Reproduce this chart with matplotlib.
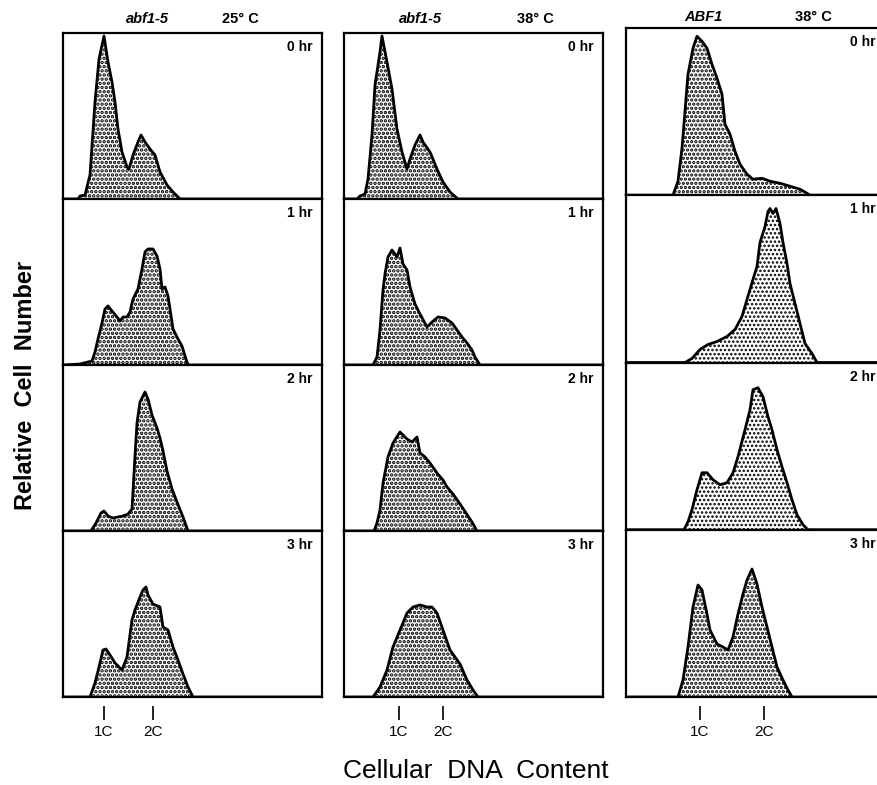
import matplotlib
matplotlib.use("Agg")
import matplotlib.pyplot as plt

plt.rcParams['font.family'] = ['Liberation Sans', 'DejaVu Sans']

# ---- data: channel (DNA content) vs relative cell count ----
# column 1: abf1-5, 25 C
c1_0h_x = [0, 15, 17, 22, 27, 32, 36, 41, 45, 49, 52, 55, 59, 64, 66, 70, 75, 78, 82, 87, 92, 97, 104, 110, 117, 259]
c1_0h_y = [0, 0, 3, 4, 24, 97, 140, 163, 137, 117, 97, 70, 47, 32, 30, 44, 57, 64, 57, 50, 44, 27, 14, 7, 0, 0]
c1_1h_x = [0, 17, 29, 32, 35, 39, 42, 45, 49, 54, 57, 60, 64, 67, 70, 75, 79, 82, 85, 90, 94, 97, 99, 102, 105, 107, 110, 115, 119, 122, 125, 259]
c1_1h_y = [0, 1, 4, 13, 26, 42, 56, 59, 54, 48, 44, 48, 48, 53, 66, 76, 96, 113, 116, 116, 109, 96, 76, 78, 69, 56, 36, 26, 19, 9, 0, 0]
c1_2h_x = [0, 28, 33, 38, 41, 45, 50, 55, 60, 65, 69, 72, 74, 77, 82, 85, 89, 94, 97, 100, 104, 109, 114, 120, 125, 259]
c1_2h_y = [0, 0, 8, 18, 20, 15, 13, 14, 15, 17, 22, 75, 108, 129, 139, 132, 116, 103, 93, 80, 60, 42, 29, 14, 0, 0]
c1_3h_x = [0, 27, 32, 37, 40, 43, 47, 52, 59, 64, 69, 72, 77, 80, 83, 85, 90, 97, 100, 105, 110, 115, 120, 125, 130, 259]
c1_3h_y = [0, 0, 14, 34, 47, 48, 42, 34, 27, 40, 77, 87, 100, 107, 110, 102, 93, 90, 70, 67, 50, 37, 23, 10, 0, 0]

# column 2: abf1-5, 38 C
c2_0h_x = [0, 13, 16, 21, 24, 28, 31, 36, 38, 43, 48, 53, 58, 63, 66, 71, 76, 79, 86, 93, 99, 106, 114, 259]
c2_0h_y = [0, 0, 3, 5, 20, 64, 114, 147, 163, 137, 110, 70, 47, 30, 40, 54, 64, 57, 47, 30, 17, 7, 0, 0]
c2_1h_x = [0, 29, 33, 36, 39, 41, 44, 48, 53, 56, 59, 63, 66, 71, 76, 83, 88, 94, 101, 108, 113, 118, 123, 128, 131, 136, 259]
c2_1h_y = [0, 0, 8, 35, 75, 91, 108, 115, 108, 117, 101, 95, 78, 61, 51, 38, 43, 48, 47, 42, 35, 28, 22, 15, 8, 0, 0]
c2_2h_x = [0, 30, 33, 36, 39, 44, 49, 56, 63, 68, 73, 76, 81, 86, 93, 99, 103, 109, 116, 122, 128, 133, 259]
c2_2h_y = [0, 0, 8, 21, 48, 74, 88, 99, 92, 89, 94, 78, 74, 68, 58, 51, 44, 37, 27, 18, 9, 0, 0]
c2_3h_x = [0, 29, 36, 43, 49, 56, 63, 69, 76, 83, 88, 93, 99, 106, 116, 123, 129, 134, 259]
c2_3h_y = [0, 0, 10, 27, 50, 67, 84, 90, 92, 90, 90, 84, 67, 47, 33, 17, 7, 0, 0]

# column 3: ABF1, 38 C
c3_0h_x = [0, 47, 52, 56, 59, 62, 67, 71, 76, 81, 86, 91, 96, 99, 104, 109, 114, 121, 127, 136, 144, 154, 164, 174, 181, 184, 259]
c3_0h_y = [0, 0, 14, 47, 84, 121, 147, 159, 154, 147, 131, 117, 101, 71, 61, 44, 31, 21, 16, 17, 14, 12, 9, 6, 2, 0, 0]
c3_1h_x = [0, 59, 66, 74, 82, 91, 101, 109, 116, 121, 127, 131, 134, 139, 142, 144, 147, 150, 154, 157, 161, 164, 169, 174, 179, 186, 191, 259]
c3_1h_y = [0, 0, 4, 13, 18, 21, 26, 33, 46, 63, 83, 96, 120, 136, 151, 154, 149, 154, 139, 120, 99, 79, 59, 39, 19, 9, 0, 0]
c3_2h_x = [0, 58, 62, 66, 71, 76, 81, 87, 94, 101, 107, 112, 119, 124, 127, 132, 137, 142, 146, 151, 156, 161, 166, 171, 177, 182, 259]
c3_2h_y = [0, 0, 8, 20, 40, 57, 57, 50, 45, 47, 57, 73, 100, 120, 140, 142, 133, 113, 100, 80, 63, 47, 30, 15, 5, 0, 0]
c3_3h_x = [0, 52, 57, 62, 67, 72, 76, 81, 84, 91, 97, 102, 107, 112, 117, 121, 126, 131, 136, 141, 146, 151, 157, 162, 166, 259]
c3_3h_y = [0, 0, 17, 50, 90, 112, 107, 83, 67, 53, 50, 47, 60, 83, 103, 117, 128, 113, 90, 70, 50, 30, 17, 7, 0, 0]

col_genotypes = ["abf1-5", "abf1-5", "ABF1"]
col_temps = ["25° C", "38° C", "38° C"]
time_labels = ["0 hr", "1 hr", "2 hr", "3 hr"]
tick_labels = ["1C", "2C"]
tick_pos = [[41, 90], [55, 99], [74, 138]]

panels = [
    [(c1_0h_x, c1_0h_y), (c1_1h_x, c1_1h_y), (c1_2h_x, c1_2h_y), (c1_3h_x, c1_3h_y)],
    [(c2_0h_x, c2_0h_y), (c2_1h_x, c2_1h_y), (c2_2h_x, c2_2h_y), (c2_3h_x, c2_3h_y)],
    [(c3_0h_x, c3_0h_y), (c3_1h_x, c3_1h_y), (c3_2h_x, c3_2h_y), (c3_3h_x, c3_3h_y)],
]
# stipple weight per panel (col3 1h/2h printed lighter)
stipple = [[1.7, 1.7, 1.7, 1.7], [1.7, 1.7, 1.7, 1.7], [1.6, 1.2, 1.2, 1.6]]

# ---- layout (pixels) ----
W, H = 878, 785
fig = plt.figure(figsize=(W / 100, H / 100), dpi=100)
col_left = [63, 344, 626]
col_top = [33, 33, 28]
col_bottom = 697
col_width = 259
title_x = [(147, 240), (420, 535), (703, 813)]
title_y = [19, 19, 17]

for c in range(3):
    ph = (col_bottom - col_top[c]) / 4
    for r in range(4):
        top = col_top[c] + r * ph
        ax = fig.add_axes([col_left[c] / W, 1 - (top + ph) / H, col_width / W, ph / H])
        x, y = panels[c][r]
        with plt.rc_context({'hatch.linewidth': stipple[c][r]}):
            ax.fill_between(x, y, 0, facecolor='white', edgecolor='black', hatch='....', linewidth=0)
        ax.plot(x, y, color='black', lw=2.0, solid_joinstyle='round')
        ax.set_xlim(0, col_width)
        ax.set_ylim(0, ph)
        ax.set_xticks([])
        ax.set_yticks([])
        for s in ax.spines.values():
            s.set_linewidth(1.6)
            s.set_color('black')
        ax.text(0.965, 0.915, time_labels[r], transform=ax.transAxes, ha='right', va='center',
                fontsize=10, fontweight='bold')
        if r == 3:
            sec = ax.secondary_xaxis(-9 / ph)
            sec.spines['bottom'].set_visible(False)
            sec.set_xticks(tick_pos[c])
            sec.set_xticklabels(tick_labels)
            sec.tick_params(direction='out', length=10, width=1.2, pad=4, labelsize=11)
    fig.text(title_x[c][0] / W, 1 - title_y[c] / H, col_genotypes[c], ha='center', va='center',
             fontsize=10.5, fontweight='bold', style='italic')
    fig.text(title_x[c][1] / W, 1 - title_y[c] / H, col_temps[c], ha='center', va='center',
             fontsize=10.5, fontweight='bold')

fig.text(476 / W, 1 - 771 / H, "Cellular  DNA  Content", ha='center', va='center', fontsize=19)
fig.text(26 / W, 1 - 385 / H, "Relative  Cell  Number", ha='center', va='center', fontsize=17,
         fontweight='bold', rotation=90)

fig.savefig("out.png", dpi=100)
